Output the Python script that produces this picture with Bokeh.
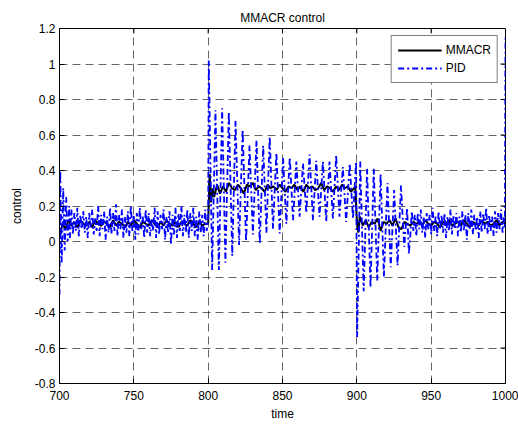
from bokeh.plotting import figure
from bokeh.models import Range1d, FixedTicker, CustomJSTickFormatter, Legend, LegendItem
from bokeh.embed import file_html
from bokeh.resources import INLINE

# ---------------- data ----------------
title_text = "MMACR control"
x_label = "time"
y_label = "control"
x_ticks = [700, 750, 800, 850, 900, 950, 1000]
y_ticks = [-0.8, -0.6, -0.4, -0.2, 0, 0.2, 0.4, 0.6, 0.8, 1, 1.2]

# MMACR (black solid)
mm_t = [700, 702, 704, 706, 708, 710, 712, 714, 716, 718, 720, 722, 724, 726, 728, 730,
        732, 734, 736, 738, 740, 742, 744, 746, 748, 750, 752, 754, 756, 758, 760, 762,
        764, 766, 768, 770, 772, 774, 776, 778, 780, 782, 784, 786, 788, 790, 792, 794,
        796, 798, 800, 801, 802, 803, 804, 806, 808, 810, 812, 814, 816, 818, 820, 822,
        824, 826, 828, 830, 832, 834, 836, 838, 840, 842, 844, 846, 848, 850, 852, 854,
        856, 858, 860, 862, 864, 866, 868, 870, 872, 874, 876, 878, 880, 882, 884, 886,
        888, 890, 892, 894, 896, 898, 899, 900, 901, 902, 904, 906, 908, 910, 912, 914,
        916, 918, 920, 922, 924, 926, 928, 930, 932, 934, 936, 938, 940, 942, 944, 946,
        948, 950, 952, 954, 956, 958, 960, 962, 964, 966, 968, 970, 972, 974, 976, 978,
        980, 982, 984, 986, 988, 990, 992, 994, 996, 998, 1000]
mm_v = [0.02, 0.10, 0.07, 0.12, 0.09, 0.11, 0.08, 0.12, 0.10, 0.09, 0.11, 0.08, 0.12, 0.10, 0.09, 0.11,
        0.10, 0.08, 0.12, 0.09, 0.11, 0.10, 0.08, 0.11, 0.09, 0.12, 0.10, 0.08, 0.11, 0.10, 0.09, 0.12,
        0.10, 0.08, 0.11, 0.09, 0.12, 0.10, 0.09, 0.11, 0.08, 0.11, 0.10, 0.09, 0.12, 0.10, 0.08, 0.11,
        0.09, 0.10, 0.10, 0.38, 0.22, 0.30, 0.25, 0.32, 0.27, 0.31, 0.28, 0.33, 0.30, 0.29, 0.32, 0.30,
        0.27, 0.32, 0.31, 0.33, 0.29, 0.31, 0.30, 0.28, 0.32, 0.30, 0.31, 0.29, 0.32, 0.30, 0.28, 0.31,
        0.30, 0.32, 0.29, 0.31, 0.28, 0.32, 0.30, 0.31, 0.29, 0.30, 0.33, 0.29, 0.31, 0.30, 0.28, 0.31,
        0.29, 0.32, 0.30, 0.31, 0.28, 0.30, 0.30, 0.12, 0.05, 0.14, 0.09, 0.12, 0.08, 0.11, 0.10, 0.13,
        0.06, 0.11, 0.10, 0.12, 0.09, 0.13, 0.08, 0.07, 0.11, 0.10, 0.09, 0.11, 0.10, 0.11, 0.09, 0.12,
        0.10, 0.09, 0.11, 0.10, 0.08, 0.11, 0.10, 0.12, 0.09, 0.10, 0.11, 0.09, 0.12, 0.10, 0.08, 0.11,
        0.10, 0.09, 0.12, 0.10, 0.11, 0.09, 0.10, 0.12, 0.09, 0.11, 0.10]

# PID (blue dash-dot)
pid_start_t = [700, 700.5, 701.5, 702.5, 703.5, 704.5, 705.5, 706.5]
pid_start_v = [-0.30, 0.40, -0.12, 0.30, -0.05, 0.25, 0.00, 0.20]

pid_noise1_v = [0.02, 0.18, 0.04, 0.16, 0.06, 0.19, 0.03, 0.15, 0.07, 0.17, 0.05, 0.14, 0.02, 0.16,
                0.08, 0.18, 0.04, 0.13, 0.06, 0.20, 0.03, 0.15, 0.07, 0.17, 0.01, 0.14, 0.05, 0.19,
                0.04, 0.16, 0.06, 0.21, 0.03, 0.15, 0.07, 0.18, 0.02, 0.14, 0.05, 0.17, 0.03, 0.20,
                0.06, 0.15, 0.01, 0.16, 0.04, 0.19, 0.07, 0.14, 0.02, 0.18, 0.05, 0.16, 0.03, 0.13,
                0.06, 0.19, 0.02, 0.17, 0.04, 0.15, 0.07, 0.18, 0.01, 0.14, 0.05, 0.17, -0.02, 0.15,
                0.04, 0.19, 0.02, 0.16, 0.06, 0.20, 0.03, 0.15, 0.05, 0.18, 0.02, 0.16, 0.06, 0.19,
                0.03, 0.14, 0.01, 0.17, 0.05, 0.15, 0.03, 0.18, 0.06]  # t = 707 .. 799

pid_osc_t = [800, 800.4, 802.7, 804.9, 807.2, 809.4, 811.6, 813.9, 816.2, 818.4, 820.8, 823.2,
             825.5, 827.8, 830.1, 832.5, 834.7, 837.0, 839.2, 841.4, 843.6, 845.9, 848.1, 850.4,
             852.6, 854.9, 857.1, 859.3, 861.5, 863.8, 866.0, 868.2, 870.5, 872.7, 874.9, 877.2,
             879.4, 881.6, 883.9, 886.1, 888.3, 890.6, 892.8, 895.2, 897.4, 899.5, 900.2, 902.3,
             904.6, 906.9, 909.2, 911.4, 913.7, 916.0, 918.2, 920.6, 922.8, 925.1, 927.4, 929.7,
             931.9, 933.8, 935.0]
pid_osc_v = [0.12, 1.02, -0.16, 0.74, -0.16, 0.75, -0.12, 0.73, -0.08, 0.68, -0.02, 0.63,
             0.00, 0.54, 0.04, 0.57, -0.01, 0.54, 0.05, 0.59, 0.07, 0.50, 0.045, 0.47,
             0.10, 0.475, 0.12, 0.45, 0.14, 0.44, 0.16, 0.49, 0.12, 0.455, 0.14, 0.45,
             0.11, 0.45, 0.13, 0.485, 0.14, 0.42, 0.11, 0.44, 0.13, 0.45, -0.54, 0.45,
             -0.28, 0.41, -0.26, 0.41, -0.22, 0.38, -0.20, 0.33, -0.145, 0.29, -0.135, 0.315,
             -0.03, 0.19, -0.07]

pid_noise2_v = [0.04, 0.17, 0.06, 0.15, 0.03, 0.16, 0.07, 0.18, 0.05, 0.14, 0.02, 0.16, 0.07, 0.15,
                0.04, 0.19, 0.06, 0.14, 0.03, 0.17, 0.07, 0.15, 0.05, 0.16, 0.02, 0.14, 0.06, 0.18,
                0.04, 0.15, 0.07, 0.16, 0.03, 0.14, 0.05, 0.17, 0.06, 0.15, 0.01, 0.16, 0.07, 0.18,
                0.04, 0.15, 0.06, 0.14, 0.02, 0.17, 0.05, 0.16, 0.07, 0.19, 0.04, 0.15, 0.06, 0.14,
                0.03, 0.17, 0.05, 0.16, 0.07, 0.18, 0.05, 0.14]  # t = 936 .. 999
pid_end_t = [999.6, 1000]
pid_end_v = [0.08, 1.16]

pid_t = (pid_start_t + list(range(707, 800)) + pid_osc_t + list(range(936, 1000)) + pid_end_t)
pid_v = pid_start_v + pid_noise1_v + pid_osc_v + pid_noise2_v + pid_end_v

# ---------------- figure ----------------
FONT = "Liberation Sans"
X0, X1 = x_ticks[0], x_ticks[-1]
Y0, Y1 = y_ticks[0], y_ticks[-1]

p = figure(width=518, height=427, output_backend="svg", toolbar_location=None,
           x_range=Range1d(X0, X1), y_range=Range1d(Y0, Y1),
           min_border_left=59, min_border_right=13, min_border_top=28, min_border_bottom=44)
p.title.text = title_text
p.title.align = "center"
p.title.text_font = FONT
p.title.text_font_size = "12px"
p.title.text_font_style = "normal"
p.title.text_color = "black"
p.title.standoff = 0
p.title.padding = 4

p.outline_line_color = "black"
p.outline_line_width = 1
p.background_fill_color = "white"
p.border_fill_color = "white"

p.xaxis.ticker = FixedTicker(ticks=x_ticks)
p.yaxis.ticker = FixedTicker(ticks=y_ticks)
p.yaxis.formatter = CustomJSTickFormatter(code="return (Math.round(tick*10)/10).toString();")
for ax in (p.xaxis[0], p.yaxis[0]):
    ax.major_tick_in = 5
    ax.major_tick_out = 0
    ax.minor_tick_in = 0
    ax.minor_tick_out = 0
    ax.axis_line_color = "black"
    ax.major_tick_line_color = "black"
    ax.major_label_text_font = FONT
    ax.major_label_text_font_size = "12px"
    ax.major_label_text_color = "black"
    ax.axis_label_text_font = FONT
    ax.axis_label_text_font_size = "12px"
    ax.axis_label_text_font_style = "normal"
    ax.axis_label_text_color = "black"
p.xaxis.axis_label = x_label
p.yaxis.axis_label = y_label
p.xaxis.major_label_standoff = 7
p.xaxis.axis_label_standoff = 4
p.yaxis.major_label_standoff = 4
p.yaxis.axis_label_standoff = 8

# box ticks on top and right (drawn inward, derived from the tick lists)
tx = (X1 - X0) * 5 / 446.0
ty = (Y1 - Y0) * 5 / 355.0
p.segment(x0=x_ticks[1:-1], x1=x_ticks[1:-1], y0=[Y1] * (len(x_ticks) - 2),
          y1=[Y1 - ty] * (len(x_ticks) - 2), line_color="black", line_width=1)
p.segment(x0=[X1] * (len(y_ticks) - 2), x1=[X1 - tx] * (len(y_ticks) - 2),
          y0=y_ticks[1:-1], y1=y_ticks[1:-1], line_color="black", line_width=1)

p.xgrid.ticker = FixedTicker(ticks=x_ticks)
p.ygrid.ticker = FixedTicker(ticks=y_ticks)
for g in (p.xgrid[0], p.ygrid[0]):
    g.grid_line_color = "#000000"
    g.grid_line_alpha = 0.6
    g.grid_line_dash = "8 5"
    g.grid_line_width = 1

r_mm = p.line(mm_t, mm_v, line_color="black", line_width=2)
r_pid = p.line(pid_t, pid_v, line_color="#0000FF", line_width=1.8, line_dash="6 3 2 3")

legend = Legend(items=[LegendItem(label="MMACR", renderers=[r_mm]),
                       LegendItem(label="PID", renderers=[r_pid])],
                location="top_right")
legend.label_text_font = FONT
legend.label_text_font_size = "12px"
legend.label_text_color = "black"
legend.glyph_width = 44
legend.glyph_height = 16
legend.label_height = 16
legend.spacing = 2
legend.padding = 6
legend.margin = 7
legend.label_standoff = 4
legend.border_line_color = "black"
legend.border_line_width = 1
legend.background_fill_alpha = 1
p.add_layout(legend, "center")

open("out.html", "w").write(file_html(p, INLINE))
